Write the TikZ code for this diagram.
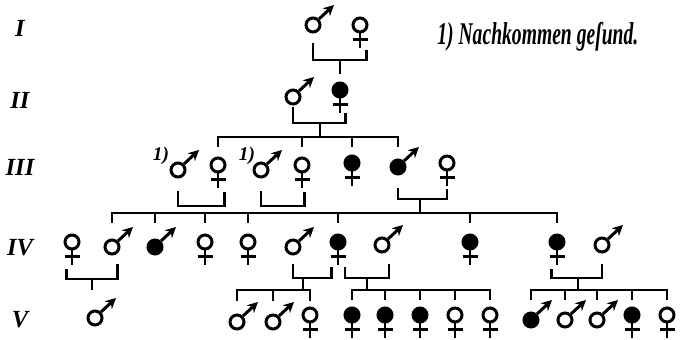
\documentclass[tikz,border=0pt]{standalone}
\usepackage{fontspec}
\newfontfamily\notefont{Liberation Serif}
\usetikzlibrary{arrows.meta}

\tikzset{
  sym/.style={circle, draw, line width=1.7pt, inner sep=0pt, minimum size=0.28cm},
  ill/.style={fill=black},
  male/.style={sym, append after command={(\tikzlastnode.north east) edge[line width=1.7pt, -{Stealth[length=6pt, width=6pt]}] ++(15,-14)}},
  female/.style={sym, append after command={(\tikzlastnode.south) edge[line width=1.7pt] ++(0,15) (\tikzlastnode.south) ++(-7.5,6.5) edge[line width=1.7pt] ++(15,0)}},
  link/.style={line width=1.6pt},
  gen/.style={font=\notefont\fontsize{14}{16}\selectfont\bfseries\itshape},
  fnote/.style={font=\notefont\fontsize{11}{12}\selectfont\bfseries\itshape, inner sep=0pt}
}

\begin{document}
\begin{tikzpicture}[x=0.02cm, y=-0.02cm]
        \useasboundingbox (0,0) rectangle (681,340);

        % Generations
        \node[gen] (gI) at (20,28) {I};
        \node[gen] (gII) at (20,100) {II};
        \node[gen] (gIII) at (20,167) {III};
        \node[gen] (gIV) at (20,248) {IV};
        \node[gen] (gV) at (20,320) {V};

        % Footnote
        \node[anchor=base west, inner sep=0pt] (note) at (437,45) {\scalebox{0.62}[1]{\notefont\fontsize{18}{20}\selectfont\bfseries\itshape 1) Nachkommen ge\char"017F und.}};

        % Row I
        \node[male] (I1) at (313,25) {};
        \node[female] (I2) at (360,25) {};

        % Row II
        \node[male] (II1) at (293,97) {};
        \node[female, ill] (II2) at (340,90) {};

        % Row III
        \node[fnote] (n1) at (161,156) {1)};
        \node[male] (III1) at (178,170) {};
        \node[female] (III2) at (218,165) {};
        \node[fnote] (n2) at (247,156) {1)};
        \node[male] (III3) at (261,170) {};
        \node[female] (III4) at (302,165) {};
        \node[female, ill] (III5) at (352,163) {};
        \node[male, ill] (III6) at (398,167) {};
        \node[female] (III7) at (447,163) {};

        % Row IV
        \node[female] (IV1) at (72,242) {};
        \node[male] (IV2) at (112,247) {};
        \node[male, ill] (IV3) at (155,247) {};
        \node[female] (IV4) at (205,242) {};
        \node[female] (IV5) at (248,242) {};
        \node[male] (IV6) at (293,247) {};
        \node[female, ill] (IV7) at (338,242) {};
        \node[male] (IV8) at (382,245) {};
        \node[female, ill] (IV9) at (470,242) {};
        \node[female, ill] (IV10) at (557,242) {};
        \node[male] (IV11) at (602,245) {};

        % Row V
        \node[male] (V1) at (95,318) {};
        \node[male] (V2) at (237,322) {};
        \node[male] (V3) at (273,322) {};
        \node[female] (V4) at (310,315) {};
        \node[female, ill] (V5) at (352,315) {};
        \node[female, ill] (V6) at (385,315) {};
        \node[female, ill] (V7) at (420,315) {};
        \node[female] (V8) at (455,315) {};
        \node[female] (V9) at (490,315) {};
        \node[male, ill] (V10) at (531,320) {};
        \node[male] (V11) at (565,320) {};
        \node[male] (V12) at (597,320) {};
        \node[female, ill] (V13) at (632,315) {};
        \node[female] (V14) at (667,315) {};

        % Marriages and sibships
        \coordinate (m1) at (340,60);
        \coordinate (m2) at (320,123);
        \coordinate (s3) at (0,137);
        \coordinate (m3a) at (200,206);
        \coordinate (m3b) at (282,206);
        \coordinate (m3c) at (420,199);
        \coordinate (s4) at (0,213);
        \coordinate (m4a) at (92,279);
        \coordinate (m4b) at (303,278);
        \coordinate (m4c) at (367,278);
        \coordinate (m4d) at (578,278);
        \coordinate (s5) at (0,290);

        % I -> II
        \draw[link] (I1 |- m1) ++(0,-17) |- ([xshift=3.5pt]I2 |- m1) -- ++(0,-10);
        \draw[link, shorten >=4pt] (m1) -- (II2);

        % II -> III
        \draw[link] (II1 |- m2) ++(0,-16) |- ([xshift=3pt]II2 |- m2) -- ++(0,-10);
        \draw[link] (m2) -- (m2 |- s3);
        \draw[link] (III2 |- s3) ++(0,10) |- (III6 |- s3) -- ++(0,10)
              (III4 |- s3) -- ++(0,10) (III5 |- s3) -- ++(0,10);

        % III -> IV
        \draw[link] (III1 |- m3a) ++(0,-15) |- ([xshift=3.5pt]III2 |- m3a) -- ++(0,-14);
        \draw[link] (III3 |- m3b) ++(0,-15) |- ([xshift=1.5pt]III4 |- m3b) -- ++(0,-14);
        \draw[link] (III6 |- m3c) ++(0,-11) |- (III7 |- m3c) -- ++(0,-10);
        \draw[link] (m3c) -- (m3c |- s4);
        \draw[link] (IV2 |- s4) ++(0,10) |- (IV10 |- s4) -- ++(0,10)
              (IV3 |- s4) -- ++(0,10) (IV4 |- s4) -- ++(0,10) (IV5 |- s4) -- ++(0,10)
              (IV7 |- s4) -- ++(0,10) (IV9 |- s4) -- ++(0,10);

        % IV -> V
        \draw[link] ([xshift=-3pt]IV1 |- m4a) ++(0,-10) |- ([xshift=3pt]IV2 |- m4a) -- ++(0,-15);
        \draw[link] (m4a) -- (m4a |- s5);
        \draw[link] (IV6 |- m4b) ++(0,-14) |- ([xshift=-3.5pt]IV7 |- m4b) -- ++(0,-11);
        \draw[link] (m4b) -- (m4b |- s5);
        \draw[link] (V2 |- s5) ++(0,11) |- (V4 |- s5) -- ++(0,11)
              (V3 |- s5) -- ++(0,11);
        \draw[link] ([xshift=4pt]IV7 |- m4c) ++(0,-11) |- ([xshift=4pt]IV8 |- m4c) -- ++(0,-14);
        \draw[link] (m4c) -- (m4c |- s5);
        \draw[link] (V5 |- s5) ++(0,10) |- (V9 |- s5) -- ++(0,10)
              (V6 |- s5) -- ++(0,10) (V7 |- s5) -- ++(0,10) (V8 |- s5) -- ++(0,10);
        \draw[link] ([xshift=-3pt]IV10 |- m4d) ++(0,-9) |- (IV11 |- m4d) -- ++(0,-14);
        \draw[link] (m4d) -- (m4d |- s5);
        \draw[link] (V10 |- s5) ++(0,10) |- (V14 |- s5) -- ++(0,10)
              (V11 |- s5) -- ++(0,10) (V12 |- s5) -- ++(0,10) (V13 |- s5) -- ++(0,10);
    \end{tikzpicture}
\end{document}
